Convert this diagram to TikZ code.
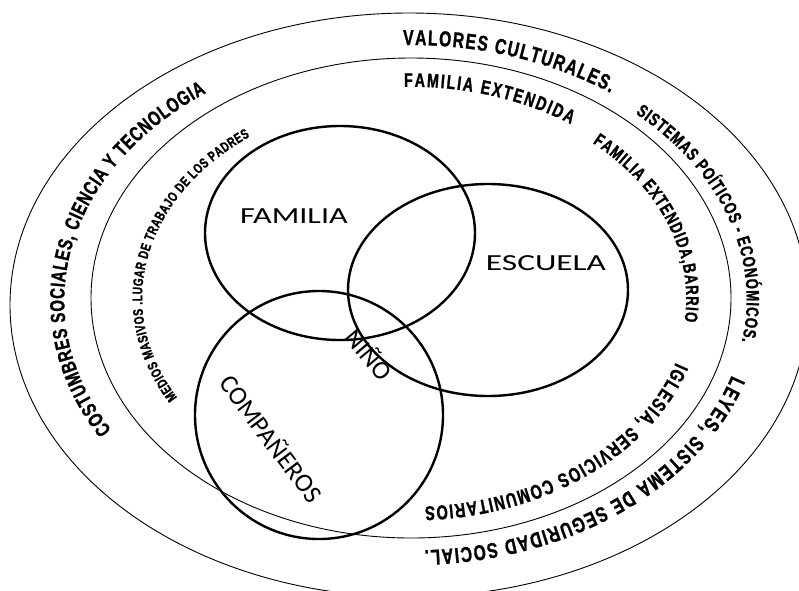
\documentclass[tikz,border=0pt]{standalone}
\usepackage{fontspec}
\usepackage{tikz}
\usetikzlibrary{decorations.text}
\newfontfamily\ringfont[FakeStretch=0.73, BoldFeatures={FakeBold=1.2}]{Liberation Sans}
\newfontfamily\labelfont{Carlito}

\begin{document}
\begin{tikzpicture}[x=1pt, y=-1pt,
  ring/.style={line width=0.9pt},
  circ/.style={line width=2.4pt},
  lbl/.style={font=\labelfont\fontsize{23}{23}\selectfont, inner sep=0pt},
  big/.style={font=\labelfont\fontsize{26}{26}\selectfont},
  ringtext/.style={decorate, decoration={text along path, text align=fit to path, text={#1}}}]
  \useasboundingbox (0,0) rectangle (799,590);
  \clip (0,0) rectangle (799,590);
  % rings
  \draw[ring] (409,305) ellipse [x radius=399, y radius=292];
  \draw[ring] (411,298) ellipse [x radius=320, y radius=240];
  % circles
  \draw[circ] (340,233) ellipse [x radius=135, y radius=107];
  \draw[circ] (488,290) ellipse [x radius=140, y radius=106];
  \draw[circ] (319,415) circle [radius=124];
  \node[lbl, xscale=1.4] (familia) at (294,216) {FAMILIA};
  \node[lbl, xscale=1.45] (escuela) at (546,263) {ESCUELA};
  \node[lbl, big, rotate=-53] (companeros) at (272,438) {COMPAÑEROS};
  \node[lbl, big, rotate=-50] (nino) at (370,354) {NIÑO};
  % outer ring texts
  \path[ringtext={|\ringfont\bfseries\fontsize{20.5}{20.5}\selectfont|COSTUMBRES SOCIALES, CIENCIA Y TECNOLOGIA}]
    (410.3,300.3) ++(149.7:346 and 257) arc[start angle=149.7, end angle=233.8, x radius=346, y radius=257];
  \path[ringtext={|\ringfont\bfseries\fontsize{21.5}{21.5}\selectfont|VALORES CULTURALES.}]
    (410.4,300) ++(268.8:343 and 255) arc[start angle=268.8, end angle=305.7, x radius=343, y radius=255];
  \path[ringtext={|\ringfont\bfseries\fontsize{18}{18}\selectfont|SISTEMAS POÍTICOS - ECONÓMICOS.}]
    (410.6,299.4) ++(312:336 and 250) arc[start angle=312, end angle=369.6, x radius=336, y radius=250];
  \path[ringtext={|\ringfont\bfseries\fontsize{21.5}{21.5}\selectfont|LEYES, SISTEMA DE SEGURIDAD SOCIAL.}]
    (410.6,299.5) ++(17.6:337 and 251) arc[start angle=17.6, end angle=87.6, x radius=337, y radius=251];
  % inner ring texts
  \path[ringtext={|\ringfont\bfseries\fontsize{14}{14}\selectfont|MEDIOS MASIVOS .LUGAR DE TRABAJO DE LOS PADRES}]
    (411,298) ++(150.4:268.8 and 201.6) arc[start angle=150.4, end angle=233.1, x radius=268.8, y radius=201.6];
  \path[ringtext={|\ringfont\bfseries\fontsize{19.5}{19.5}\selectfont|FAMILIA EXTENDIDA}]
    (411,298) ++(268.6:281.6 and 211.2) arc[start angle=268.6, end angle=304.6, x radius=281.6, y radius=211.2];
  \path[ringtext={|\ringfont\bfseries\fontsize{18}{18}\selectfont|FAMILIA EXTENDIDA,BARRIO}]
    (411,298) ++(311.3:275.2 and 206.4) arc[start angle=311.3, end angle=366.5, x radius=275.2, y radius=206.4];
  \path[ringtext={|\ringfont\bfseries\fontsize{20}{20}\selectfont|IGLESIA, SERVICIOS COMUNITARIOS}]
    (411,298) ++(18:278.4 and 208.8) arc[start angle=18, end angle=87.1, x radius=278.4, y radius=208.8];
\end{tikzpicture}
\end{document}
